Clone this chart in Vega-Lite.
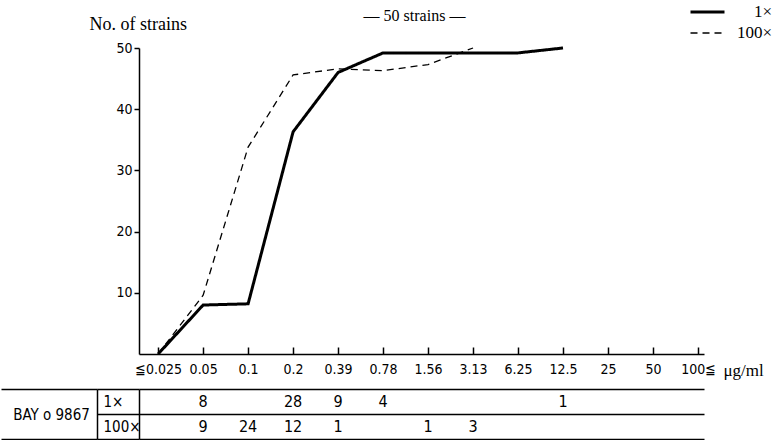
{
  "$schema": "https://vega.github.io/schema/vega-lite/v6.json",
  "padding": {"left": 0, "top": 4, "right": 0, "bottom": 0},
  "background": "white",
  "config": {
    "view": {"stroke": null},
    "font": "Liberation Sans Narrow, DejaVu Sans Condensed, sans-serif"
  },
  "datasets": {
    "curves": [
      {"conc": "≦0.025", "dose": "1×", "n": 0},
      {"conc": "0.05", "dose": "1×", "n": 8},
      {"conc": "0.1", "dose": "1×", "n": 8.2},
      {"conc": "0.2", "dose": "1×", "n": 36.3},
      {"conc": "0.39", "dose": "1×", "n": 46},
      {"conc": "0.78", "dose": "1×", "n": 49.2},
      {"conc": "1.56", "dose": "1×", "n": 49.2},
      {"conc": "3.13", "dose": "1×", "n": 49.2},
      {"conc": "6.25", "dose": "1×", "n": 49.2},
      {"conc": "12.5", "dose": "1×", "n": 50},
      {"conc": "≦0.025", "dose": "100×", "n": 0},
      {"conc": "0.05", "dose": "100×", "n": 9.6},
      {"conc": "0.1", "dose": "100×", "n": 33.8},
      {"conc": "0.2", "dose": "100×", "n": 45.6},
      {"conc": "0.39", "dose": "100×", "n": 46.6},
      {"conc": "0.78", "dose": "100×", "n": 46.3},
      {"conc": "1.56", "dose": "100×", "n": 47.3},
      {"conc": "3.13", "dose": "100×", "n": 50}
    ],
    "table": [
      {"conc": "0.05", "dose": "1×", "n": 8},
      {"conc": "0.2", "dose": "1×", "n": 28},
      {"conc": "0.39", "dose": "1×", "n": 9},
      {"conc": "0.78", "dose": "1×", "n": 4},
      {"conc": "12.5", "dose": "1×", "n": 1},
      {"conc": "0.05", "dose": "100×", "n": 9},
      {"conc": "0.1", "dose": "100×", "n": 24},
      {"conc": "0.2", "dose": "100×", "n": 12},
      {"conc": "0.39", "dose": "100×", "n": 1},
      {"conc": "1.56", "dose": "100×", "n": 1},
      {"conc": "3.13", "dose": "100×", "n": 3}
    ],
    "drug": [{"drug": "BAY o 9867"}]
  },
  "bounds": "flush",
  "spacing": 35,
  "vconcat": [
    {
      "width": 565,
      "height": 306,
      "title": {"text": "— 50 strains —", "font": "Liberation Serif", "fontSize": 16, "fontWeight": "normal", "color": "black", "anchor": "middle", "dx": -7, "offset": -9},
      "data": {"name": "curves"},
      "mark": {"type": "line", "color": "black", "strokeJoin": "miter"},
      "encoding": {
        "x": {
          "field": "conc", "type": "ordinal",
          "sort": ["≦0.025", "0.05", "0.1", "0.2", "0.39", "0.78", "1.56", "3.13", "6.25", "12.5", "25", "50", "100≦"],
          "scale": {"type": "point", "domain": ["≦0.025", "0.05", "0.1", "0.2", "0.39", "0.78", "1.56", "3.13", "6.25", "12.5", "25", "50", "100≦"], "padding": 0.28, "align": 0.76},
          "axis": {
            "title": "μg/ml", "titleFont": "Liberation Serif", "titleFontSize": 17, "titleFontWeight": "normal", "titleColor": "black",
            "titleX": 584, "titleY": 16, "titleAlign": "left", "titleBaseline": "middle", "titleAnchor": "start",
            "labelAngle": 0, "labelFontSize": 14, "labelColor": "black", "labelPadding": 15,
            "tickSize": -7, "tickColor": "black", "tickWidth": 1.5,
            "domainColor": "black", "domainWidth": 1.5, "grid": false
          }
        },
        "y": {
          "field": "n", "type": "quantitative",
          "scale": {"domain": [0, 50], "nice": false},
          "axis": {
            "values": [10, 20, 30, 40, 50],
            "title": "No. of strains", "titleAngle": 0, "titleX": -50, "titleY": -19, "titleAlign": "left", "titleBaseline": "alphabetic",
            "titleFont": "Liberation Serif", "titleFontSize": 18, "titleFontWeight": "normal", "titleColor": "black",
            "tickSize": 5, "tickColor": "black", "tickWidth": 1.5, "labelPadding": 2, "labelFontSize": 14, "labelColor": "black",
            "grid": false, "domainColor": "black", "domainWidth": 1.5
          }
        },
        "strokeDash": {
          "field": "dose", "type": "nominal",
          "scale": {"domain": ["1×", "100×"], "range": [[1, 0], [7, 5]]},
          "legend": {"title": null, "orient": "none", "legendX": 550, "legendY": -44, "symbolType": "stroke", "symbolSize": 1156, "symbolStrokeColor": "black", "labelFont": "Liberation Serif", "labelFontSize": 17, "labelColor": "black", "labelAlign": "right", "labelOffset": 46, "clipHeight": 16, "rowPadding": 4}
        },
        "strokeWidth": {
          "field": "dose", "type": "nominal",
          "scale": {"domain": ["1×", "100×"], "range": [3, 1.3]},
          "legend": {"title": null, "orient": "none", "legendX": 550, "legendY": -44, "symbolType": "stroke", "symbolSize": 1156, "symbolStrokeColor": "black", "labelFont": "Liberation Serif", "labelFontSize": 17, "labelColor": "black", "labelAlign": "right", "labelOffset": 46, "clipHeight": 16, "rowPadding": 4}
        }
      }
    },
    {
      "width": 565,
      "height": 50,
      "layer": [
        {
          "data": {"name": "table"},
          "mark": {"type": "text", "fontSize": 16, "color": "black", "baseline": "middle", "align": "center"},
          "encoding": {
            "x": {
              "field": "conc", "type": "ordinal",
              "sort": ["≦0.025", "0.05", "0.1", "0.2", "0.39", "0.78", "1.56", "3.13", "6.25", "12.5", "25", "50", "100≦"],
              "scale": {"type": "point", "domain": ["≦0.025", "0.05", "0.1", "0.2", "0.39", "0.78", "1.56", "3.13", "6.25", "12.5", "25", "50", "100≦"], "padding": 0.28, "align": 0.76},
              "axis": null
            },
            "y": {
              "field": "dose", "type": "nominal",
              "sort": ["1×", "100×"],
              "scale": {"type": "band", "domain": ["1×", "100×"], "paddingInner": 0, "paddingOuter": 0},
              "axis": {
                "orient": "left", "title": null, "tickBand": "extent", "tickSize": 42, "tickColor": "black", "tickWidth": 1.5,
                "grid": true, "gridColor": "black", "gridWidth": 1.5, "gridOpacity": 1,
                "domain": true, "domainColor": "black", "domainWidth": 1.5,
                "labelAlign": "left", "labelPadding": -6, "labelFontSize": 15, "labelColor": "black"
              }
            },
            "text": {"field": "n", "type": "quantitative"}
          }
        },
        {
          "data": {"name": "drug"},
          "mark": {"type": "rule", "opacity": 0},
          "encoding": {
            "y": {
              "field": "drug", "type": "nominal",
              "scale": {"type": "band", "paddingInner": 0, "paddingOuter": 0},
              "axis": {
                "orient": "left", "offset": 42, "title": null, "tickBand": "extent", "tickSize": 96, "tickColor": "black", "tickWidth": 1.5,
                "domain": true, "domainColor": "black", "domainWidth": 1.5, "grid": false,
                "labelAlign": "center", "labelPadding": -50, "labelFontSize": 15, "labelColor": "black"
              }
            }
          }
        }
      ],
      "resolve": {"scale": {"y": "independent"}, "axis": {"y": "independent"}}
    }
  ]
}
